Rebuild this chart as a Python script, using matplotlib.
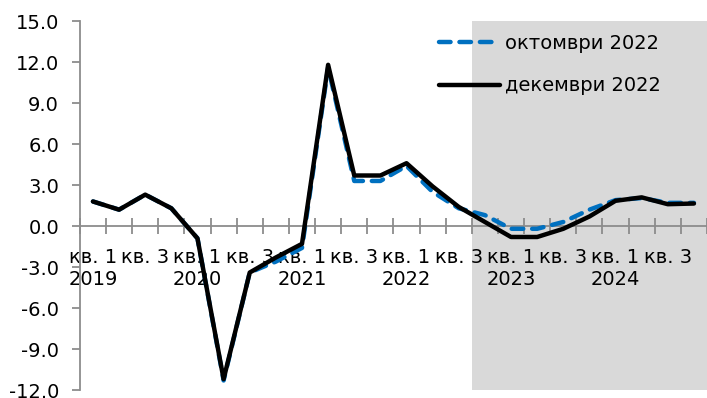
"""
Quarterly growth projections: October vs December 2022 rounds.
"""
import matplotlib.pyplot as plt
from matplotlib.ticker import FixedLocator, FormatStrFormatter

# Quarters 2019 Q1 .. 2024 Q4
quarters = [f"{y} Q{q}" for y in range(2019, 2025) for q in range(1, 5)]

tick_labels = []
for i, q in enumerate(quarters):
    year, qq = q.split(" Q")
    if qq == "1":
        tick_labels.append(f"кв. 1\n{year}")
    elif qq == "3":
        tick_labels.append("кв. 3")
    else:
        tick_labels.append("")

october_2022 = [1.8, 1.2, 2.3, 1.3, -0.9, -11.3, -3.4, -2.6, -1.6, 11.6,
                3.3, 3.3, 4.4, 2.5, 1.3, 0.8, -0.2, -0.2, 0.3, 1.2,
                1.9, 2.05, 1.7, 1.7]
december_2022 = [1.8, 1.2, 2.3, 1.3, -0.9, -11.2, -3.4, -2.3, -1.3, 11.8,
                 3.7, 3.7, 4.6, 2.9, 1.4, 0.3, -0.8, -0.8, -0.2, 0.7,
                 1.85, 2.1, 1.6, 1.65]

forecast_start = 15  # first projected quarter (2022 Q4)

plt.rcParams['font.family'] = 'DejaVu Sans'

fig = plt.figure(figsize=(7.07, 3.98), dpi=100)
ax = fig.add_axes([0.113, 0.02, 0.887, 0.927])

x = list(range(len(quarters)))

# Shaded projection period
ax.axvspan(forecast_start - 0.5, len(quarters) - 0.5, color='#d9d9d9', lw=0, zorder=0)

ax.plot(x, october_2022, color='#0070c0', lw=3.2, ls=(0, (2.6, 2.0)),
        dash_capstyle='round', solid_capstyle='round', label='октомври 2022', zorder=3)
ax.plot(x, december_2022, color='black', lw=3.2, solid_capstyle='round',
        solid_joinstyle='round', label='декември 2022', zorder=4)

ax.set_xlim(-0.5, len(quarters) - 0.5)
ax.set_ylim(-12, 15)
ax.set_yticks([-12 + 3 * i for i in range(10)])
ax.yaxis.set_major_formatter(FormatStrFormatter('%.1f'))

# Category boundaries as ticks, labels at category centres
ax.xaxis.set_major_locator(FixedLocator([i - 0.5 for i in range(len(quarters) + 1)]))
ax.xaxis.set_major_formatter(plt.NullFormatter())
ax.xaxis.set_minor_locator(FixedLocator(x))
ax.set_xticklabels(tick_labels, minor=True, linespacing=1.3)

ax.spines['top'].set_visible(False)
ax.spines['right'].set_visible(False)
ax.spines['bottom'].set_position(('data', 0))
for s in ('left', 'bottom'):
    ax.spines[s].set_color('#8c8c8c')
    ax.spines[s].set_linewidth(1.3)

ax.tick_params(axis='x', which='major', direction='inout', length=11,
               width=1.3, color='#8c8c8c')
ax.tick_params(axis='x', which='minor', length=0, pad=16, labelsize=14)
ax.tick_params(axis='y', direction='out', length=6, width=1.3,
               color='#8c8c8c', labelsize=14, pad=9)

leg = ax.legend(loc='upper left', bbox_to_anchor=(0.573, 0.965), frameon=False,
                fontsize=14, handlelength=3.1, handletextpad=0.3,
                labelspacing=1.2, borderpad=0, borderaxespad=0)

fig.savefig('out.png', dpi=100, facecolor='white')
